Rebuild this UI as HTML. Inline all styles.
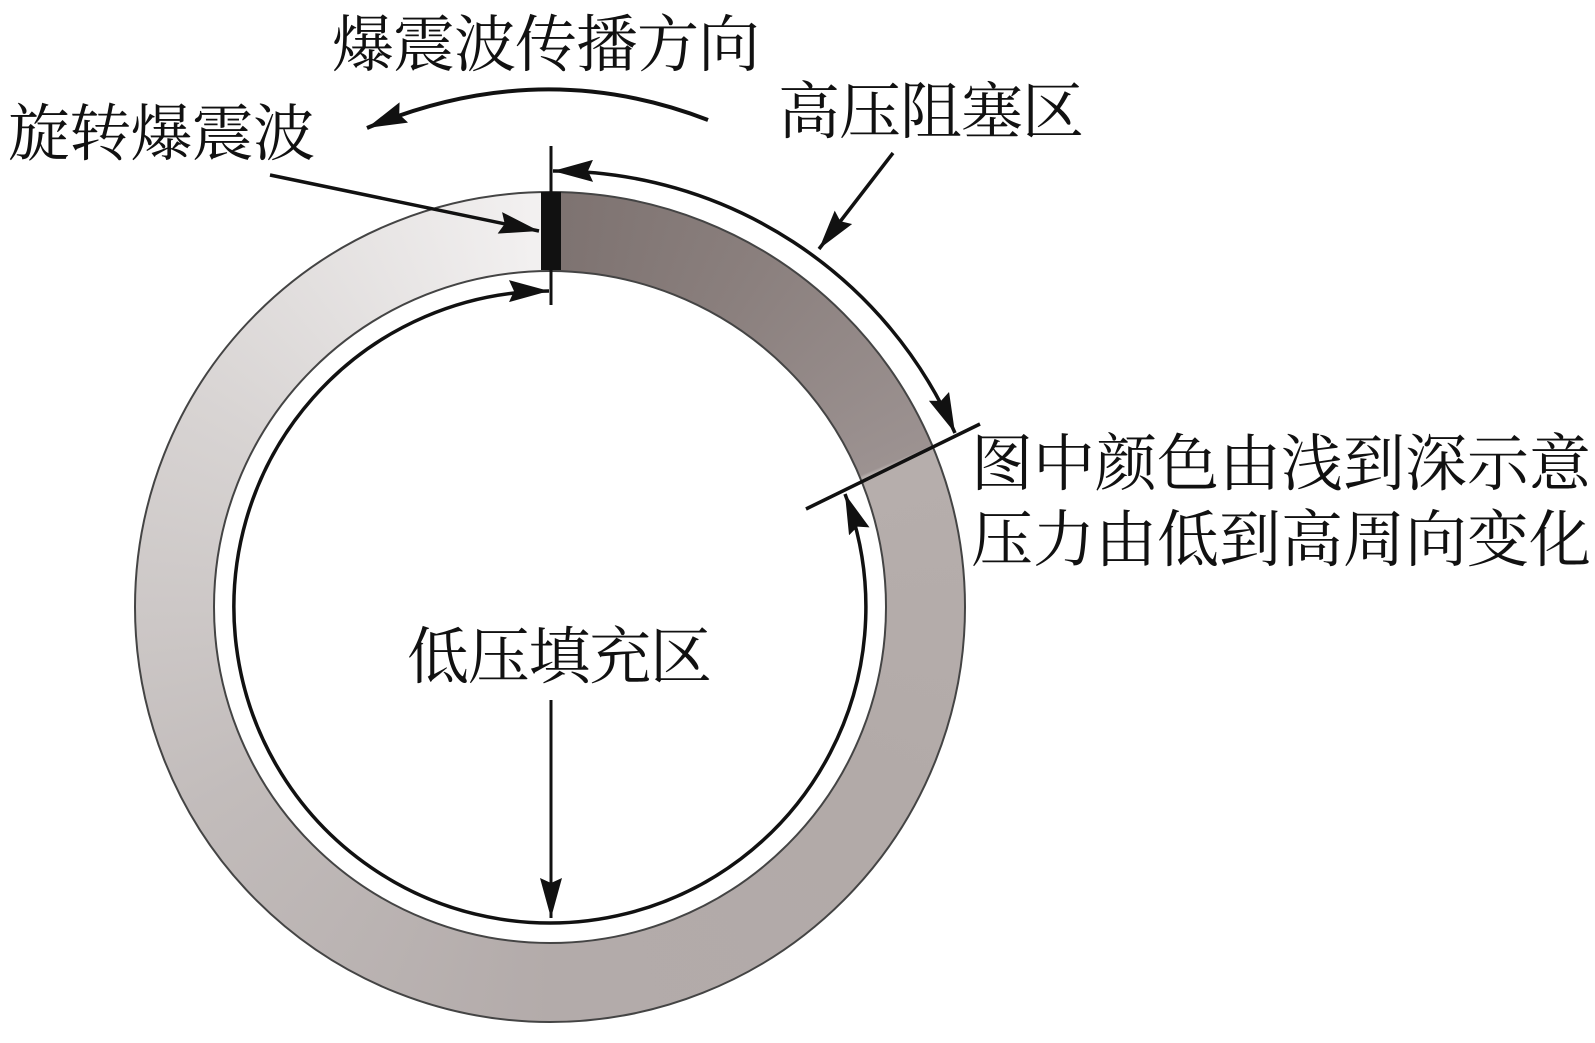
<!DOCTYPE html>
<html><head><meta charset="utf-8"><style>
html,body{margin:0;padding:0;background:#fff;}
body{width:1595px;height:1043px;position:relative;overflow:hidden;}
.ring{position:absolute;left:135px;top:192px;width:830px;height:830px;border-radius:50%;
background:conic-gradient(from 0deg,#7d7270 0deg,#8a7f7d 30deg,#9c9291 67deg,#b6aeac 67.5deg,#b2aaa8 120deg,#b3abaa 180deg,#c2bcbb 240deg,#d8d4d3 300deg,#f3f1f1 359.5deg,#7d7270 360deg);}
.inner{position:absolute;left:214px;top:271px;width:672px;height:672px;border-radius:50%;background:#fff;}
svg{position:absolute;left:0;top:0;}
text{font-family:"Liberation Serif","Noto Serif CJK SC",serif;font-size:62px;fill:#111;}
</style></head><body>
<div class="ring"></div>
<div class="inner"></div>
<svg width="1595" height="1043" viewBox="0 0 1595 1043">
<defs>
<marker id="b" markerWidth="40" markerHeight="22" refX="40" refY="11" orient="auto-start-reverse" markerUnits="userSpaceOnUse"><path d="M0,0L40,11L0,22L5,11z" fill="#111"/></marker></defs>
<circle cx="550" cy="607" r="415" fill="none" stroke="#444" stroke-width="2"/>
<circle cx="550" cy="607" r="336" fill="none" stroke="#444" stroke-width="2"/>
<rect x="541" y="192" width="20" height="78" fill="#111"/>
<line x1="551" y1="146" x2="551" y2="305" stroke="#111" stroke-width="3"/>
<line x1="806" y1="509" x2="980" y2="424" stroke="#111" stroke-width="3.5"/>
<path d="M 955 433 A 437 437 0 0 0 553 171" fill="none" stroke="#111" stroke-width="3.5" marker-end="url(#b)" marker-start="url(#b)"/>
<path d="M 845 494 A 316 316 0 1 1 549 291" fill="none" stroke="#111" stroke-width="3.5" marker-end="url(#b)" marker-start="url(#b)"/>
<path d="M 708 120 Q 540 55 367 128" fill="none" stroke="#111" stroke-width="4" marker-end="url(#b)"/>
<line x1="270" y1="175" x2="539" y2="231" stroke="#111" stroke-width="3.5" marker-end="url(#b)"/>
<line x1="893" y1="153" x2="819" y2="249" stroke="#111" stroke-width="3.5" marker-end="url(#b)"/>
<line x1="551" y1="700" x2="551" y2="918" stroke="#111" stroke-width="3" marker-end="url(#b)"/>
<text x="332" y="66" textLength="428">爆震波传播方向</text>
<text x="8" y="155" textLength="307">旋转爆震波</text>
<text x="778" y="133" textLength="306">高压阻塞区</text>
<text x="971" y="485" textLength="620">图中颜色由浅到深示意</text>
<text x="971" y="561" textLength="620">压力由低到高周向变化</text>
<text x="407" y="678" textLength="305">低压填充区</text>
</svg>
</body></html>
